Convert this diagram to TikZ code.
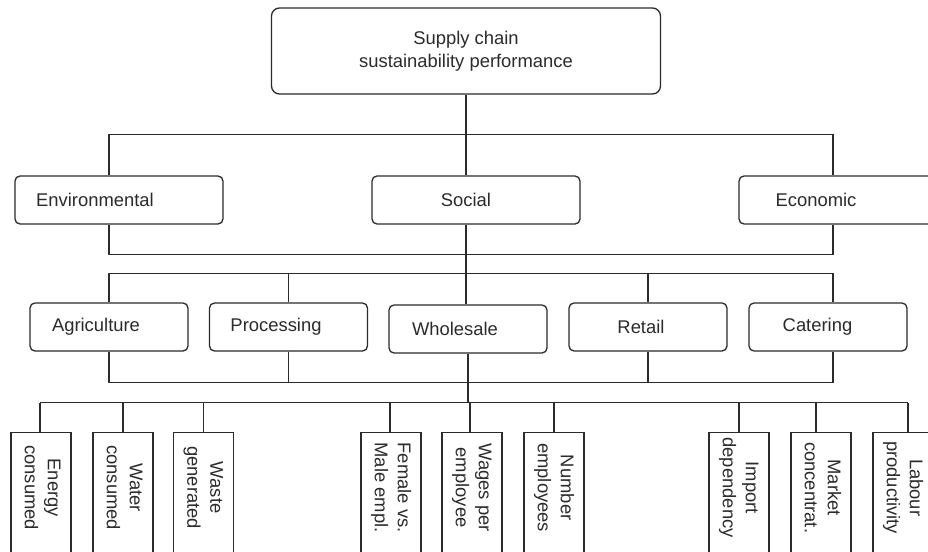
\documentclass[tikz,border=0pt]{standalone}
\usepackage{fontspec}
\setmainfont{Liberation Sans}
\definecolor{ink}{HTML}{2B2B2B}

\begin{document}
\begin{tikzpicture}[x=0.5pt,y=-0.5pt,line width=0.65pt,draw=ink,text=ink]
   \tikzset{topbox/.style={draw,rounded corners=4pt,align=center,minimum width=194.5pt,minimum height=43pt},
            cat/.style={draw,rounded corners=2.5pt,minimum width=#1,minimum height=24pt},
            leaf/.style={draw,rotate=-90,anchor=west,inner xsep=0pt,minimum width=75pt,minimum height=30pt},
            every node/.style={font=\fontsize{9.2}{11.5}\selectfont}};

\useasboundingbox[fill=white] (0,0) rectangle (928,552);
\clip (0,0) rectangle (928,552);

\node[topbox] (top) at (466,51) {Supply chain\\sustainability performance};

\node[cat=104pt] (env) at (119,200) {Environmental\kern24pt};
\node[cat=104pt] (social) at (476,200) {Social\kern10pt};
\node[cat=104pt] (econ) at (843,200) {Economic\kern27pt};

\node[cat=79pt] (agri) at (109,327) {Agriculture\kern13pt};
\node[cat=79pt] (proc) at (288.5,327) {Processing\kern12.5pt};
\node[cat=79pt] (whole) at (468,329) {Wholesale\kern13pt};
\node[cat=79pt] (retail) at (648,327) {Retail\kern7pt};
\node[cat=79pt] (cater) at (828,327) {Catering\kern10.5pt};

\foreach \n/\x/\ta/\tb in {energy/41/Energy/consumed, water/123/Water/consumed, waste/203.5/Waste/generated,
   female/391/Female vs./Male empl., wages/472/Wages per/employee, number/554/Number/employees,
   import/739/Import/dependency, market/821/Market/concentrat., labour/903/Labour/productivity}
   \node[leaf] (\n) at (\x,432) {\begin{tabular}{@{}c@{}}\ta\\\tb\end{tabular}\kern20pt};

% pillars
\draw (top.south) -- ([xshift=-5pt]social.north);
\draw ([xshift=-5pt]env.north) -- ++(0,-41) -| ([xshift=-5pt]econ.north);
\draw ([xshift=-5pt]env.south) -- ++(0,30) -| ([xshift=-5pt]econ.south);
\draw ([xshift=-5pt]social.south) -- ([xshift=-5pt]social.south |- whole.north);

% stages
\draw (agri.north) -- ++(0,-29) coordinate (b2) -| ([xshift=2.5pt]cater.north);
\draw (agri.south) -- ++(0,31) coordinate (b3) -| ([xshift=2.5pt]cater.south);
\foreach \n in {proc,retail} {
   \draw (\n.north) -- (\n.north |- b2);
   \draw (\n.south) -- (\n.south |- b3);
}
\draw (whole.south) -- ++(0,49) coordinate (b4);

% indicators
\draw ([xshift=-0.5pt]energy.west |- b4) -- ([xshift=2.5pt]labour.west |- b4);
\foreach \n/\s in {energy/-0.5,water/0,waste/0,female/-0.5,wages/-1,number/0,import/0,market/-2.5,labour/2.5}
   \draw ([xshift=\s pt]\n.west) -- ([xshift=\s pt]\n.west |- b4);

\end{tikzpicture}
\end{document}
